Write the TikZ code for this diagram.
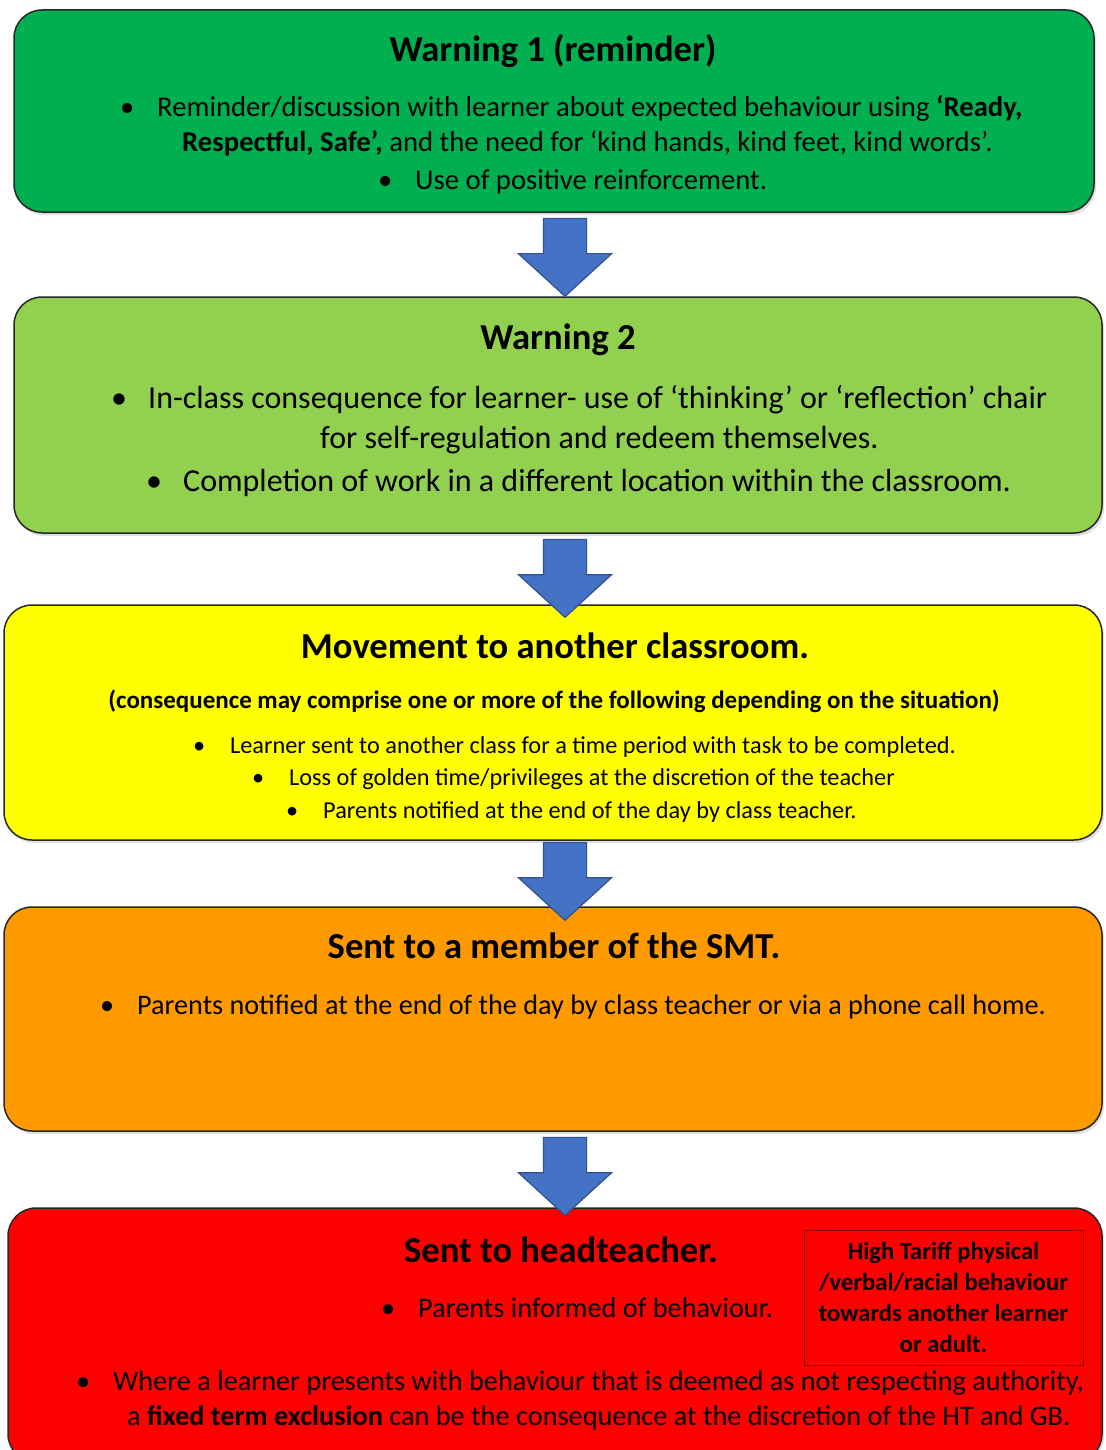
\documentclass[tikz,border=0pt]{standalone}
\usepackage{fontspec}
\setmainfont{Carlito}
\usetikzlibrary{shapes.arrows,shadows}

\definecolor{warnone}{HTML}{00B050}
\definecolor{warntwo}{HTML}{92D050}
\definecolor{moveclass}{HTML}{FFFF00}
\definecolor{smtorange}{HTML}{FF9900}
\definecolor{headred}{HTML}{FF0000}
\definecolor{arrowblue}{HTML}{4472C4}
\definecolor{arrowedge}{HTML}{2F528F}
\definecolor{tariffedge}{HTML}{8B0000}

\newcommand{\setfs}[1]{\fontsize{#1}{#1}\selectfont}
\newcommand{\bul}{\makebox[37pt][l]{•}}

\begin{document}
\begin{tikzpicture}[x=1pt,y=-1pt,
    stage/.style={draw=black!85,line width=1.5pt,rounded corners=28pt,inner sep=0pt,
      drop shadow={opacity=0.25,shadow xshift=2pt,shadow yshift=-3pt}},
    downarrow/.style={single arrow,draw=arrowedge,fill=arrowblue,line width=1.2pt,
      inner sep=21pt,minimum width=92pt,minimum height=78pt,
      single arrow head extend=25pt,single arrow tip angle=95,
      shape border rotate=270,anchor=tail,yshift=-5pt},
    head/.style={inner sep=0pt,anchor=base,font=\bfseries\setfs{36.6}},
    txt/.style={inner sep=0pt,anchor=base west}]
  \clip (0,0) rectangle (1105,1450);

  % the five stages
  \node[stage,fill=warnone,minimum width=1080pt,minimum height=202pt] (w1) at (554,111) {};
  \node[stage,fill=warntwo,minimum width=1088pt,minimum height=236pt] (w2) at (558,415) {};
  \node[stage,fill=moveclass,minimum width=1098pt,minimum height=235pt] (w3) at (553,722.5) {};
  \node[stage,fill=smtorange,minimum width=1098pt,minimum height=224pt] (w4) at (553,1019) {};
  \node[stage,fill=headred,minimum width=1094pt,minimum height=254pt] (w5) at (555,1335) {};

  % block arrows hanging below each stage
  \coordinate (ax) at (565,0);
  \node[downarrow] (a1) at (w1.south -| ax) {};
  \node[downarrow] (a2) at (w2.south -| ax) {};
  \node[downarrow,yshift=4pt] (a3) at (w3.south -| ax) {};
  \node[downarrow] (a4) at (w4.south -| ax) {};

  % Warning 1
  \node[head] (h1) at (553,61.7) {Warning 1 (reminder)};
  \node[txt,font=\setfs{28.7}] (t1a) at (120,116.2) {\bul Reminder/discussion with learner about expected behaviour using \textbf{‘Ready,}};
  \node[txt,font=\setfs{28.7}] (t1b) at (182,151.2) {\textbf{Respectful, Safe’,} and the need for ‘kind hands, kind feet, kind words’.};
  \node[txt,font=\setfs{28.7}] (t1c) at (378,189.2) {\bul Use of positive reinforcement.};

  % Warning 2
  \node[head] (h2) at (558,349.7) {Warning 2};
  \node[txt,font=\setfs{32}] (t2a) at (111,408.2) {\bul In-class consequence for learner- use of ‘thinking’ or ‘reflection’ chair};
  \node[txt,font=\setfs{32}] (t2b) at (320,448.2) {for self-regulation and redeem themselves.};
  \node[txt,font=\setfs{32}] (t2c) at (146,491.2) {\bul Completion of work in a different location within the classroom.};

  % movement
  \node[head] (h3) at (555,658.7) {Movement to another classroom.};
  \node[inner sep=0pt,anchor=base,font=\bfseries\setfs{25}] (s3) at (554,708.7) {(consequence may comprise one or more of the following depending on the situation)};
  \node[txt,font=\setfs{24.3}] (t3a) at (193,753.8) {\bul Learner sent to another class for a time period with task to be completed.};
  \node[txt,font=\setfs{24.3}] (t3b) at (252,785.8) {\bul Loss of golden time/privileges at the discretion of the teacher};
  \node[txt,font=\setfs{24.3}] (t3c) at (286,818.8) {\bul Parents notified at the end of the day by class teacher.};

  % SMT
  \node[head] (h4) at (554,958.7) {Sent to a member of the SMT.};
  \node[txt,font=\setfs{28.2}] (t4a) at (100,1014) {\bul Parents notified at the end of the day by class teacher or via a phone call home.};

  % headteacher
  \node[head] (h5) at (561,1262.7) {Sent to headteacher.};
  \node[txt,font=\setfs{28.3}] (t5a) at (381,1317) {\bul Parents informed of behaviour.};
  \node[draw=tariffedge,line width=0.8pt,minimum width=279pt,minimum height=135pt,inner sep=0pt,
    align=center,font=\bfseries\fontsize{24.6}{31}\selectfont] (tariff) at (943.5,1297.5)
    {High Tariff physical\\/verbal/racial behaviour\\towards another learner\\or adult.};
  \node[txt,font=\setfs{28.3}] (t5b) at (76,1390) {\bul Where a learner presents with behaviour that is deemed as not respecting authority,};
  \node[txt,font=\setfs{28.3}] (t5c) at (127,1425) {a \textbf{fixed term exclusion} can be the consequence at the discretion of the HT and GB.};
\end{tikzpicture}
\end{document}
